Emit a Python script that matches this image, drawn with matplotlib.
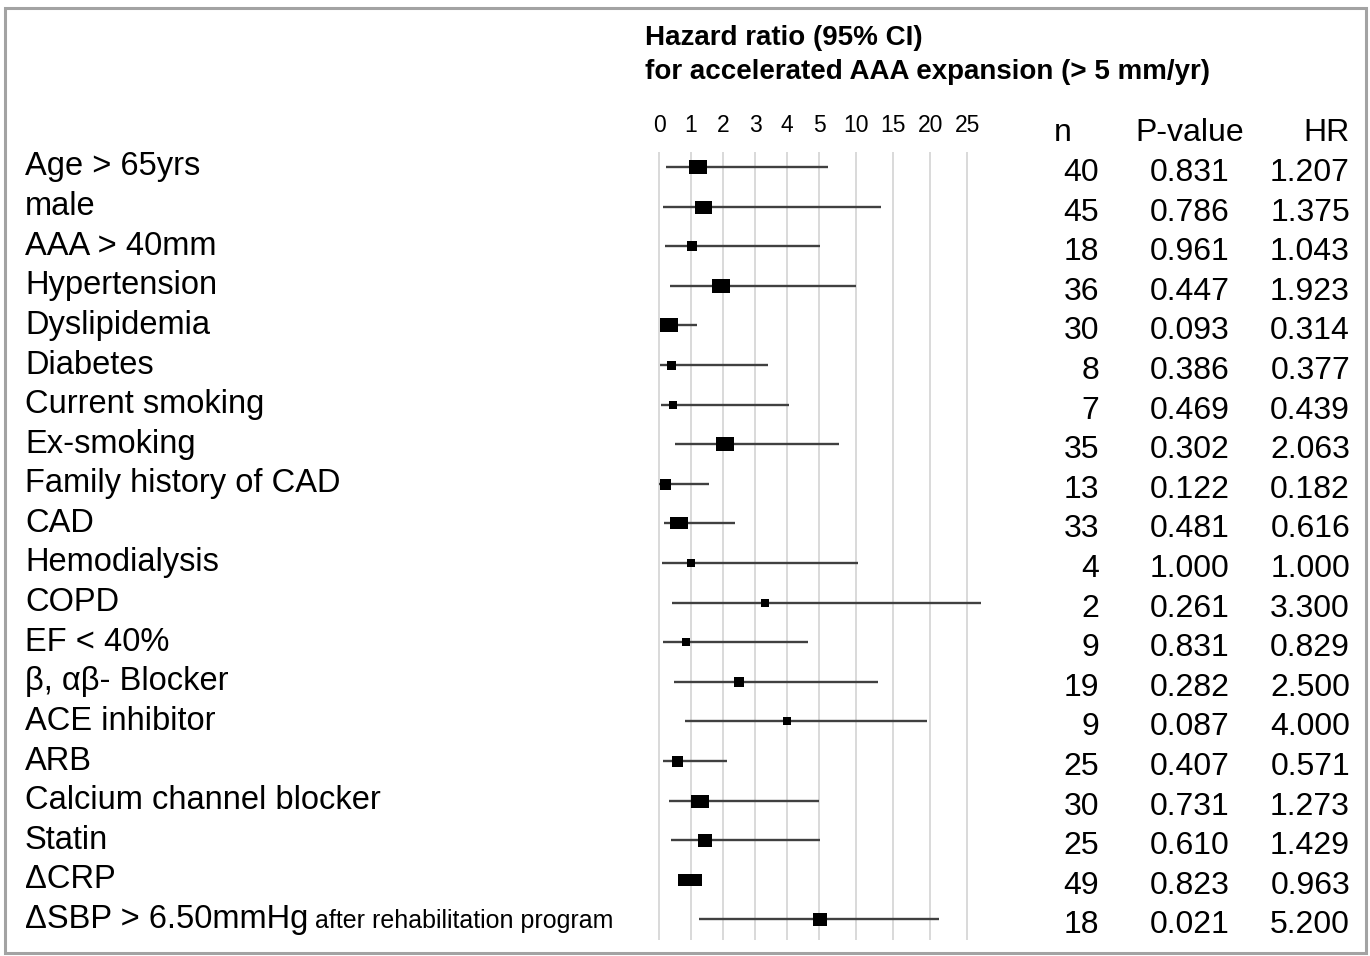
import numpy as np
import matplotlib
matplotlib.use('Agg')
import matplotlib.pyplot as plt
from matplotlib.patches import Rectangle
from matplotlib.transforms import blended_transform_factory

plt.rcParams['font.family'] = ['Liberation Sans', 'DejaVu Sans']

labels = ['Age > 65yrs', 'male', 'AAA > 40mm', 'Hypertension', 'Dyslipidemia', 'Diabetes',
          'Current smoking', 'Ex-smoking', 'Family history of CAD', 'CAD', 'Hemodialysis',
          'COPD', 'EF < 40%', 'β, αβ- Blocker', 'ACE inhibitor', 'ARB',
          'Calcium channel blocker', 'Statin', 'ΔCRP', 'ΔSBP > 6.50mmHg']
n = [40, 45, 18, 36, 30, 8, 7, 35, 13, 33, 4, 2, 9, 19, 9, 25, 30, 25, 49, 18]
p_value = ['0.831', '0.786', '0.961', '0.447', '0.093', '0.386', '0.469', '0.302', '0.122',
           '0.481', '1.000', '0.261', '0.831', '0.282', '0.087', '0.407', '0.731', '0.610',
           '0.823', '0.021']
hr = [1.207, 1.375, 1.043, 1.923, 0.314, 0.377, 0.439, 2.063, 0.182, 0.616, 1.000, 3.300,
      0.829, 2.500, 4.000, 0.571, 1.273, 1.429, 0.963, 5.200]
ci_lo = [0.22, 0.12, 0.19, 0.34, 0.09, 0.03, 0.06, 0.50, 0.01, 0.16, 0.08, 0.40, 0.14,
         0.48, 0.81, 0.14, 0.31, 0.37, 0.70, 1.26]
ci_hi = [6.2, 13.4, 5.13, 10.0, 1.20, 3.42, 4.06, 7.65, 1.56, 2.36, 10.2, 26.8, 4.65,
         13.0, 19.5, 2.13, 5.0, 5.13, 1.33, 21.2]
# relative weight of each estimate (box width)
weight = [17.7, 17.0, 10.7, 17.7, 17.7, 9.0, 8.7, 17.7, 11.0, 18.3, 7.3, 7.7, 8.7, 10.7,
          8.3, 11.0, 18.0, 13.3, 23.3, 13.3]
ticks = [0, 1, 2, 3, 4, 5, 10, 15, 20, 25]

# axis is linear up to 5, compressed above 5
K = 0.232


def fwd(v):
    v = np.asarray(v, dtype=float)
    return np.where(v <= 5, v, 5 + (v - 5) * K)


def inv(u):
    u = np.asarray(u, dtype=float)
    return np.where(u <= 5, u, 5 + (u - 5) / K)


W, H = 1370, 956
fig = plt.figure(figsize=(W / 100, H / 100), dpi=100)

x0, x1 = -0.1, 25.4
unit = 32.0
ax_w = (float(fwd(x1)) - float(fwd(x0))) * unit
ax_left = 659 + x0 * unit
top_px, bot_px = 152, 940
ax = fig.add_axes([ax_left / W, (H - bot_px) / H, ax_w / W, (bot_px - top_px) / H])
ax.set_xscale('function', functions=(fwd, inv))
ax.set_xlim(x0, x1)
row0, step = 167, 39.6
ax.set_ylim((bot_px - row0) / step, (top_px - row0) / step)

ax.set_xticks(ticks)
ax.set_xticklabels([str(t) for t in ticks])
ax.xaxis.tick_top()
ax.tick_params(axis='x', length=0, pad=11, labelsize=16.5)
ax.set_yticks([])
for s in ax.spines.values():
    s.set_visible(False)
ax.grid(axis='x', color='#d9d9d9', lw=1.4)
ax.set_axisbelow(True)

for i in range(len(labels)):
    ax.plot([ci_lo[i], ci_hi[i]], [i, i], color='#404040', lw=1.7, clip_on=False,
            solid_capstyle='butt', zorder=2)
    w = weight[i]
    h = min(w, 13.0)
    box = [(-w / 2, -h / 2), (w / 2, -h / 2), (w / 2, h / 2), (-w / 2, h / 2), (-w / 2, -h / 2)]
    ax.plot([hr[i]], [i], marker=box, markersize=w * 0.72, color='black', mew=0,
            clip_on=False, zorder=3)

trans = blended_transform_factory(fig.transFigure, ax.transData)
for i, lab in enumerate(labels):
    t = fig.text(25 / W, i + 0.0, lab, transform=trans, va='center', ha='left', fontsize=23.5)
    if i == len(labels) - 1:
        ax.annotate(' after rehabilitation program', xy=(1, 0), xycoords=t,
                    xytext=(0, 1.5), textcoords='offset points',
                    va='bottom', ha='left', fontsize=18)
    fig.text(1099 / W, i + 0.15, str(n[i]), transform=trans, va='center', ha='right', fontsize=23)
    fig.text(1190 / W, i + 0.15, p_value[i], transform=trans, va='center', ha='center', fontsize=23)
    fig.text(1350 / W, i + 0.15, '%.3f' % hr[i], transform=trans, va='center', ha='right', fontsize=23)

hy = (133 - row0) / step
fig.text(1063 / W, hy, 'n', transform=trans, va='center', ha='center', fontsize=23)
fig.text(1190 / W, hy, 'P-value', transform=trans, va='center', ha='center', fontsize=23)
fig.text(1350 / W, hy, 'HR', transform=trans, va='center', ha='right', fontsize=23)

fig.text(645 / W, 1 - 38 / H, 'Hazard ratio (95% CI)', va='center', ha='left',
         fontsize=20, fontweight='bold')
fig.text(645 / W, 1 - 72 / H, 'for accelerated AAA expansion (> 5 mm/yr)', va='center',
         ha='left', fontsize=20, fontweight='bold')

fig.add_artist(Rectangle((5 / W, 3 / H), 1361 / W, 945 / H, transform=fig.transFigure,
                         fill=False, ec='#a3a3a3', lw=2.2))

fig.savefig('out.png', dpi=100)
